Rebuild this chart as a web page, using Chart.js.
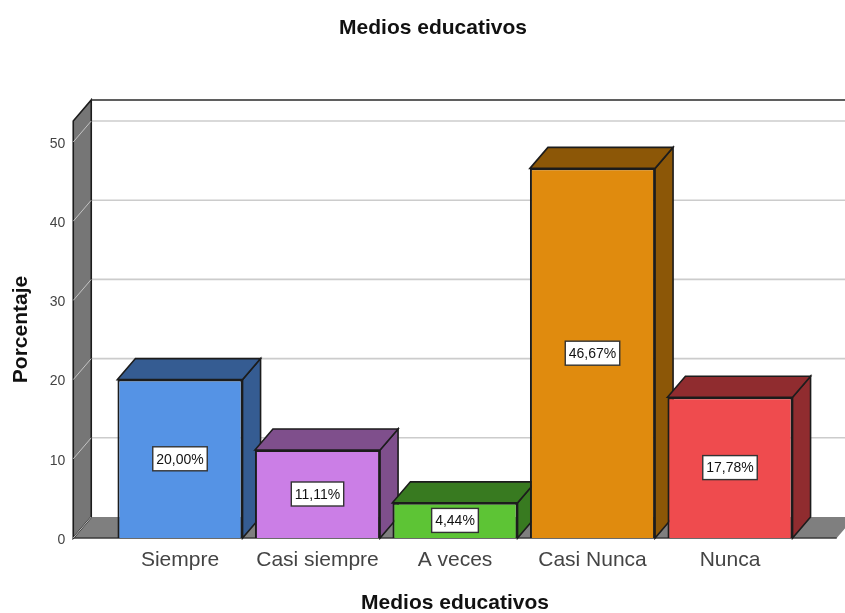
<!DOCTYPE html>
<html>
<head>
<meta charset="utf-8">
<title>Medios educativos</title>
<script src="https://cdn.jsdelivr.net/npm/chart.js@4"></script>
<style>
  html, body { margin: 0; padding: 0; background: #fff; overflow: hidden; }
  canvas { display: block; }
</style>
</head>
<body>
<canvas id="medios_bar" width="866" height="616"></canvas>
<script>
const categories = ['Siempre', 'Casi siempre', 'A veces', 'Casi Nunca', 'Nunca'];
const porcentajes = [20.00, 11.11, 4.44, 46.67, 17.78];
const frontColors = ['#5593e5', '#cb7ee6', '#5dc435', '#e08b0e', '#ef4b4e'];
const sideColors = ['#355c92', '#7f4f8c', '#387a20', '#8c5707', '#902c2f'];

const DEPTH_X = 18;
const DEPTH_Y = 21;
const WALL_OUT = 38;
const LINE = '#1c1c1c';

function poly(ctx, pts, fill, stroke, width) {
  ctx.beginPath();
  pts.forEach(function(p, i) {
    if (i === 0) ctx.moveTo(p[0], p[1]);
    else ctx.lineTo(p[0], p[1]);
  });
  ctx.closePath();
  if (fill) {
    ctx.fillStyle = fill;
    ctx.fill();
  }
  if (stroke) {
    ctx.strokeStyle = stroke;
    ctx.lineWidth = width;
    ctx.stroke();
  }
}

function seg(ctx, x1, y1, x2, y2, color, width) {
  ctx.beginPath();
  ctx.moveTo(x1, y1);
  ctx.lineTo(x2, y2);
  ctx.strokeStyle = color;
  ctx.lineWidth = width;
  ctx.stroke();
}

// back wall, floor, left wall, grid and the depth faces of the bars
const box3d = {
  id: 'box3d',
  beforeDatasetsDraw(chart) {
    const ctx = chart.ctx;
    const area = chart.chartArea;
    const y = chart.scales.y;
    const base = y.getPixelForValue(0);
    const top = area.top;
    const l = area.left - WALL_OUT;
    const r = area.right + WALL_OUT;
    ctx.save();

    y.ticks.forEach(function(t) {
      const py = y.getPixelForValue(t.value);
      if (t.value > 0) {
        seg(ctx, l + DEPTH_X, py - DEPTH_Y, chart.width, py - DEPTH_Y, '#cccccc', 1.6);
      }
    });

    poly(ctx, [[l, base], [l + DEPTH_X, base - DEPTH_Y], [r + DEPTH_X, base - DEPTH_Y], [r, base]], '#7f7f7f');
    seg(ctx, l, base, r, base, '#3a3a3a', 1.6);

    poly(ctx, [[l, top], [l + DEPTH_X, top - DEPTH_Y], [l + DEPTH_X, base - DEPTH_Y], [l, base]], '#767676', LINE, 1.6);
    seg(ctx, l + DEPTH_X, top - DEPTH_Y, chart.width, top - DEPTH_Y, '#2a2a2a', 1.6);

    y.ticks.forEach(function(t) {
      const py = y.getPixelForValue(t.value);
      seg(ctx, l, py, l + DEPTH_X, py - DEPTH_Y, '#c4c4c4', 1);
    });

    chart.getDatasetMeta(0).data.forEach(function(bar, i) {
      const x0 = bar.x - bar.width / 2;
      const x1 = bar.x + bar.width / 2;
      poly(ctx, [[x1, bar.y], [x1 + DEPTH_X, bar.y - DEPTH_Y], [x1 + DEPTH_X, bar.base - DEPTH_Y], [x1, bar.base]], sideColors[i], LINE, 1.6);
      poly(ctx, [[x0, bar.y], [x0 + DEPTH_X, bar.y - DEPTH_Y], [x1 + DEPTH_X, bar.y - DEPTH_Y], [x1, bar.y]], sideColors[i], LINE, 1.6);
    });
    ctx.restore();
  },
  afterDatasetsDraw(chart) {
    const ctx = chart.ctx;
    ctx.save();
    ctx.font = '14px "Liberation Sans", Arial, sans-serif';
    ctx.textAlign = 'center';
    ctx.textBaseline = 'middle';
    chart.getDatasetMeta(0).data.forEach(function(bar, i) {
      const text = porcentajes[i].toFixed(2).replace('.', ',') + '%';
      const w = ctx.measureText(text).width + 7;
      const cy = (bar.y + bar.base) / 2;
      ctx.fillStyle = '#fff';
      ctx.strokeStyle = '#333';
      ctx.lineWidth = 1.4;
      ctx.fillRect(bar.x - w / 2, cy - 12, w, 24);
      ctx.strokeRect(bar.x - w / 2, cy - 12, w, 24);
      ctx.fillStyle = '#111';
      ctx.fillText(text, bar.x, cy + 1);
    });
    ctx.restore();
  }
};

document.addEventListener('DOMContentLoaded', function() {
  const ctx = document.getElementById('medios_bar').getContext('2d');

  new Chart(ctx, {
    type: 'bar',
    data: {
      labels: categories,
      datasets: [
        {
          label: 'Porcentaje',
          data: porcentajes,
          backgroundColor: frontColors,
          borderColor: LINE,
          borderWidth: 2,
          categoryPercentage: 1,
          barPercentage: 0.91
        }
      ]
    },
    plugins: [box3d],
    options: {
      responsive: false,
      animation: false,
      scales: {
        x: {
          grid: { display: false },
          border: { display: false },
          ticks: {
            color: '#444',
            padding: 2,
            maxRotation: 0,
            autoSkip: false,
            font: { family: '"Liberation Sans"', size: 21 }
          },
          title: {
            display: true,
            text: 'Medios educativos',
            color: '#111',
            padding: 0,
            font: { family: '"Liberation Sans"', size: 21, weight: 'bold' }
          },
          afterFit(scale) { scale.height = 78; }
        },
        y: {
          min: 0,
          max: 52.65,
          grid: { display: false },
          border: { display: false },
          ticks: {
            stepSize: 10,
            includeBounds: false,
            color: '#444',
            padding: 38,
            labelOffset: 2,
            font: { family: '"Liberation Sans"', size: 14 }
          },
          title: {
            display: true,
            text: 'Porcentaje',
            color: '#111',
            padding: { top: 9, bottom: 0 },
            font: { family: '"Liberation Sans"', size: 21, weight: 'bold' }
          },
          afterFit(scale) { scale.width = 111.25; }
        },
        // empty axis on the right, it only holds the room beside the bars
        yRight: {
          position: 'right',
          min: 0,
          max: 52.65,
          grid: { display: false },
          border: { display: false },
          ticks: { display: false },
          afterFit(scale) { scale.width = 67.25; }
        }
      },
      plugins: {
        legend: { display: false },
        tooltip: { enabled: false },
        title: {
          display: true,
          text: 'Medios educativos',
          color: '#111',
          padding: { top: 16, bottom: 79.8 },
          font: { family: '"Liberation Sans"', size: 21, weight: 'bold' }
        }
      }
    }
  });
});
</script>
</body>
</html>
